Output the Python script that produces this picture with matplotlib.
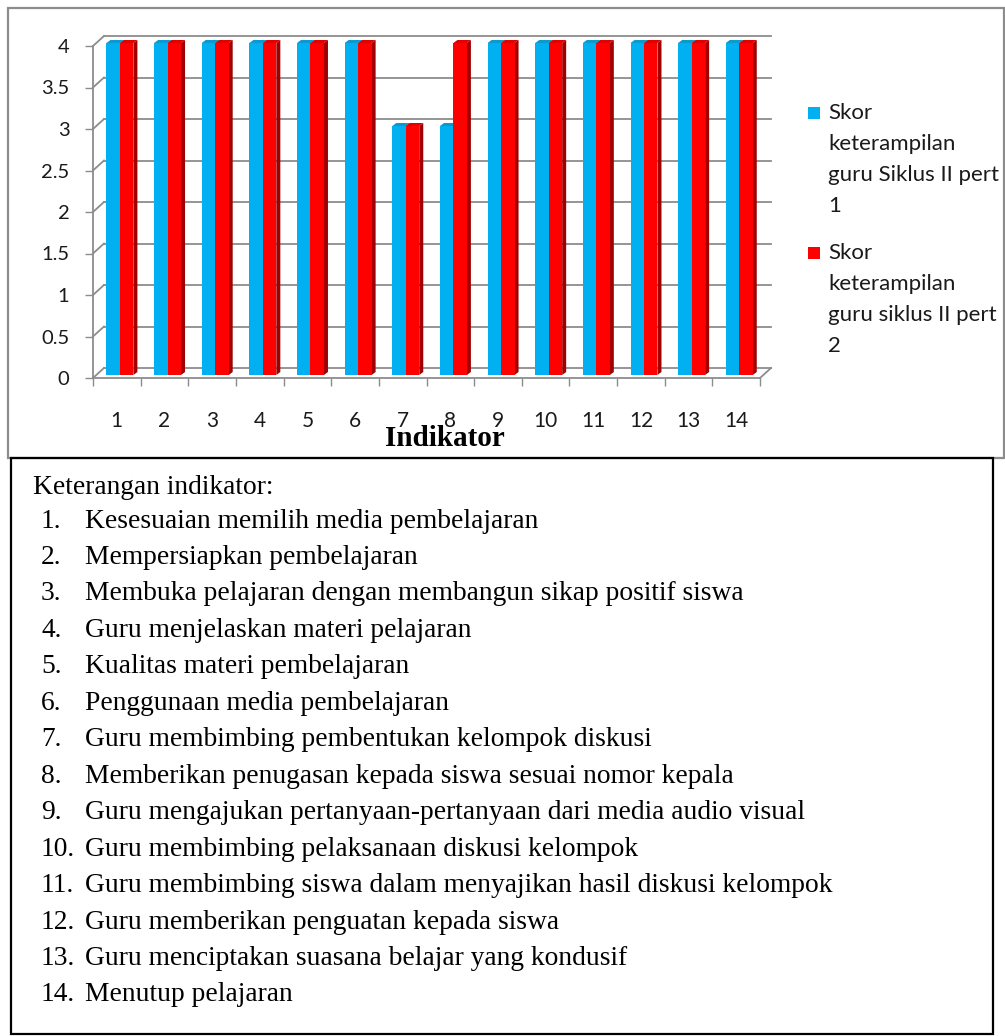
import matplotlib
matplotlib.use("Agg")
import matplotlib.pyplot as plt
from matplotlib.patches import Polygon, Rectangle

# ---- data -------------------------------------------------------------
indikator = [str(i) for i in range(1, 15)]
skor_pert1 = [4, 4, 4, 4, 4, 4, 3, 3, 4, 4, 4, 4, 4, 4]
skor_pert2 = [4, 4, 4, 4, 4, 4, 3, 4, 4, 4, 4, 4, 4, 4]
series_labels = [
    "Skor\nketerampilan\nguru Siklus II pert\n1",
    "Skor\nketerampilan\nguru siklus II pert\n2",
]
y_ticks = [0, 0.5, 1, 1.5, 2, 2.5, 3, 3.5, 4]
y_tick_labels = ["0", "0.5", "1", "1.5", "2", "2.5", "3", "3.5", "4"]
x_title = "Indikator"

keterangan_title = "Keterangan indikator:"
keterangan = [
    "Kesesuaian memilih media pembelajaran",
    "Mempersiapkan pembelajaran",
    "Membuka pelajaran dengan membangun sikap positif siswa",
    "Guru menjelaskan materi pelajaran",
    "Kualitas materi pembelajaran",
    "Penggunaan media pembelajaran",
    "Guru membimbing pembentukan kelompok diskusi",
    "Memberikan penugasan kepada siswa sesuai nomor kepala",
    "Guru mengajukan pertanyaan-pertanyaan dari media audio visual",
    "Guru membimbing pelaksanaan diskusi kelompok",
    "Guru membimbing siswa dalam menyajikan hasil diskusi kelompok",
    "Guru memberikan penguatan kepada siswa",
    "Guru menciptakan suasana belajar yang kondusif",
    "Menutup pelajaran",
]

# ---- styling ----------------------------------------------------------
W, H, DPI = 1005, 1036, 100
BLUE, BLUE_TOP = "#00B0F0", "#0A9AD2"
RED, RED_TOP, RED_SIDE = "#FF0000", "#E00000", "#A00000"
GRID = "#8C8C8C"
SANS = ["Lato", "DejaVu Sans"]
SERIF = ["Liberation Serif", "DejaVu Serif"]

fig = plt.figure(figsize=(W / DPI, H / DPI), dpi=DPI)


def fx(px):
    return px / W


def fy(py):
    return 1 - py / H


# plot area (front plane) in pixels
left_px, right_px, zero_px, top_px = 93, 760, 378, 46
ax = fig.add_axes([fx(left_px), fy(zero_px), fx(right_px - left_px),
                   (zero_px - top_px) / H])
n = len(indikator)
xs = list(range(1, n + 1))
ax.set_xlim(0.5, n + 0.5)
ax.set_ylim(0, 4)
ax.set_facecolor("none")

# conversions between pixels and data units for the pseudo-3D depth
ppu_x = (right_px - left_px) / n
ppu_y = (zero_px - top_px) / 4.0
depth_dx, depth_dy = 11 / ppu_x, 10 / ppu_y      # back wall offset
bar_dx, bar_dy = 4 / ppu_x, 3 / ppu_y            # bar side / cap depth

# back wall gridlines and left wall slants
for v in y_ticks:
    ax.plot([0.5 + depth_dx, n + 0.5 + depth_dx], [v + depth_dy, v + depth_dy],
            color=GRID, lw=1.3, clip_on=False, zorder=1)
    ax.plot([0.5, 0.5 + depth_dx], [v, v + depth_dy],
            color=GRID, lw=1.3, clip_on=False, zorder=1)
# right floor slant
ax.plot([n + 0.5, n + 0.5 + depth_dx], [0, depth_dy],
        color=GRID, lw=1.3, clip_on=False, zorder=1)

# front axes lines and ticks
for side in ("top", "right"):
    ax.spines[side].set_visible(False)
for side in ("left", "bottom"):
    ax.spines[side].set_color(GRID)
    ax.spines[side].set_linewidth(1.3)
    ax.spines[side].set_zorder(5)

ax.set_yticks(y_ticks)
ax.set_yticklabels(y_tick_labels, family=SANS, fontsize=14.5, color="#1a1a1a")
ax.tick_params(axis="y", direction="out", length=6, width=1.0, color=GRID, pad=11)

ax.set_xticks([i + 0.5 for i in range(0, n + 1)])
ax.set_xticklabels([])
ax.set_xticks(xs, minor=True)
ax.set_xticklabels(indikator, minor=True, family=SANS, fontsize=15, color="#1a1a1a")
ax.tick_params(axis="x", which="major", direction="out", length=6, width=1.0, color=GRID)
ax.tick_params(axis="x", which="minor", length=0, pad=24)

# bars with a small 3D side and top cap
bw = 0.283
shift = 0.065
lift = 3 / ppu_y


def bar3d(xc, h, face, top, side, z):
    l, r = xc - bw / 2, xc + bw / 2
    b, t = lift, h + lift
    ax.add_patch(Polygon([(r, b), (r, t), (r + bar_dx, t + bar_dy), (r + bar_dx, b + bar_dy)],
                         closed=True, facecolor=side, edgecolor="none", zorder=z, clip_on=False))
    ax.add_patch(Polygon([(l, t), (r, t), (r + bar_dx, t + bar_dy), (l + bar_dx, t + bar_dy)],
                         closed=True, facecolor=top, edgecolor="none", zorder=z, clip_on=False))
    ax.add_patch(Rectangle((l, b), bw, t - b, facecolor=face, edgecolor="none",
                           zorder=z + 0.1, clip_on=False))


for x, v in zip(xs, skor_pert1):
    bar3d(x + shift - bw / 2, v, BLUE, BLUE_TOP, "#0086B8", 3)
for x, v in zip(xs, skor_pert2):
    bar3d(x + shift + bw / 2, v, RED, RED_TOP, RED_SIDE, 3.5)

# axis title
fig.text(fx(445), fy(439), x_title, family=SERIF, fontweight="bold", fontsize=21,
         ha="center", va="center", color="black")

# legend
leg_colors = [BLUE, RED]
leg_tops = [113, 253]
for lab, col, ty in zip(series_labels, leg_colors, leg_tops):
    fig.patches.append(Rectangle((fx(808), fy(ty + 6)), fx(12), 12 / H,
                                 transform=fig.transFigure, facecolor=col,
                                 edgecolor="none"))
    fig.text(fx(828), fy(ty - 10), lab, family=SANS, fontsize=16, ha="left",
             va="top", linespacing=1.68, color="#1a1a1a")

# chart frame
fig.patches.append(Rectangle((fx(8), fy(458)), fx(1004 - 8), (458 - 8) / H,
                             transform=fig.transFigure, facecolor="none",
                             edgecolor=GRID, lw=1.6))

# explanation box
fig.patches.append(Rectangle((fx(11), fy(1034)), fx(993 - 11), (1034 - 458) / H,
                             transform=fig.transFigure, facecolor="none",
                             edgecolor="black", lw=1.6, zorder=10))
fig.text(fx(33), fy(487), keterangan_title, family=SERIF, fontsize=19.8,
         ha="left", va="center", color="black")
for i, item in enumerate(keterangan):
    y = 521 + 36.46 * i
    fig.text(fx(41), fy(y), f"{i + 1}.", family=SERIF, fontsize=19.8,
             ha="left", va="center", color="black")
    fig.text(fx(85), fy(y), item, family=SERIF, fontsize=19.8,
             ha="left", va="center", color="black")

fig.savefig("out.png", dpi=DPI)
